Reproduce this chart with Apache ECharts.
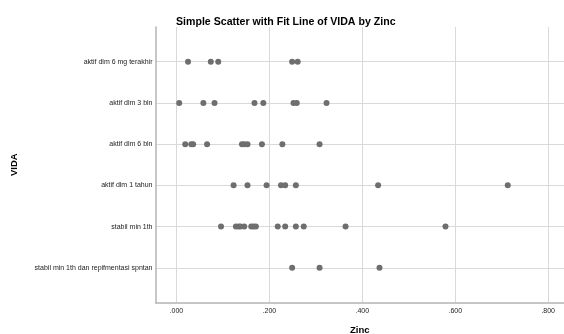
<!DOCTYPE html>
<html>
<head>
<meta charset="utf-8">
<script src="https://cdn.jsdelivr.net/npm/echarts@6/dist/echarts.min.js"></script>
<style>
  html, body { margin: 0; padding: 0; background: #fff; }
  #chart { width: 564px; height: 334px; }
</style>
</head>
<body>
<div id="chart"></div>
<script>
// categories, bottom to top (index = y position)
const categories = [
  'stabil min 1th dan repifmentasi spntan',
  'stabil min 1th',
  'aktif dlm 1 tahun',
  'aktif dlm 6 bln',
  'aktif dlm 3 bln',
  'aktif dlm 6 mg terakhir'
];

// Zinc values per category (same order as categories)
const zincStabilRepif = [0.249, 0.308, 0.437];
const zincStabil = [0.096, 0.128, 0.134, 0.138, 0.146, 0.161, 0.166, 0.171, 0.218, 0.234, 0.257, 0.274, 0.364, 0.579];
const zincAktif1Th = [0.123, 0.153, 0.194, 0.225, 0.234, 0.257, 0.434, 0.713];
const zincAktif6Bln = [0.019, 0.032, 0.036, 0.066, 0.141, 0.146, 0.153, 0.184, 0.228, 0.308];
const zincAktif3Bln = [0.006, 0.058, 0.082, 0.168, 0.187, 0.252, 0.259, 0.323];
const zincAktif6Mg = [0.025, 0.074, 0.090, 0.249, 0.261];

const xTicks = [0, 0.2, 0.4, 0.6, 0.8];

const groups = [zincStabilRepif, zincStabil, zincAktif1Th, zincAktif6Bln, zincAktif3Bln, zincAktif6Mg];
const points = [];
groups.forEach((vals, i) => vals.forEach((v) => points.push([v, i])));
const yTicks = categories.map((c, i) => i);

const font = 'Liberation Sans, Arial, sans-serif';
const chart = echarts.init(document.getElementById('chart'));

chart.setOption({
  animation: false,
  title: {
    text: 'Simple Scatter with Fit Line of VIDA by Zinc',
    left: 171,
    top: 12,
    textStyle: { fontFamily: font, fontSize: 10.6, fontWeight: 'bold', color: '#000' }
  },
  grid: { left: 155.5, right: 0, top: 27, bottom: 31.5, outerBoundsMode: 'none', containLabel: false },
  xAxis: {
    type: 'value',
    min: -0.045,
    max: 0.834,
    name: 'Zinc',
    nameLocation: 'middle',
    nameGap: 23,
    nameTextStyle: { fontFamily: font, fontSize: 9.5, fontWeight: 'bold', color: '#000' },
    axisLine: { show: true, onZero: false, lineStyle: { color: '#b4b4b4', width: 1.5 } },
    axisTick: { show: false, customValues: xTicks },
    axisLabel: {
      customValues: xTicks,
      fontFamily: font,
      fontSize: 7,
      color: '#222',
      margin: 5,
      formatter: (v) => v.toFixed(3).replace(/^0/, '')
    },
    splitLine: { show: true, lineStyle: { color: '#d9d9d9', width: 1 } }
  },
  yAxis: {
    type: 'value',
    min: -0.84,
    max: 5.84,
    name: 'VIDA',
    nameLocation: 'middle',
    nameRotate: 90,
    nameGap: 136,
    nameTextStyle: { fontFamily: font, fontSize: 9.5, fontWeight: 'bold', color: '#000' },
    axisLine: { show: true, onZero: false, lineStyle: { color: '#b4b4b4', width: 1.5 } },
    axisTick: { show: false, customValues: yTicks },
    axisLabel: {
      customValues: yTicks,
      fontFamily: font,
      fontSize: 7,
      color: '#222',
      margin: 3,
      formatter: (v) => categories[Math.round(v)] || ''
    },
    splitLine: { show: true, lineStyle: { color: '#d9d9d9', width: 1 } }
  },
  series: [
    {
      type: 'scatter',
      data: points,
      symbolSize: 6,
      itemStyle: { color: '#6e6e6e', opacity: 1 }
    }
  ]
});
</script>
</body>
</html>
